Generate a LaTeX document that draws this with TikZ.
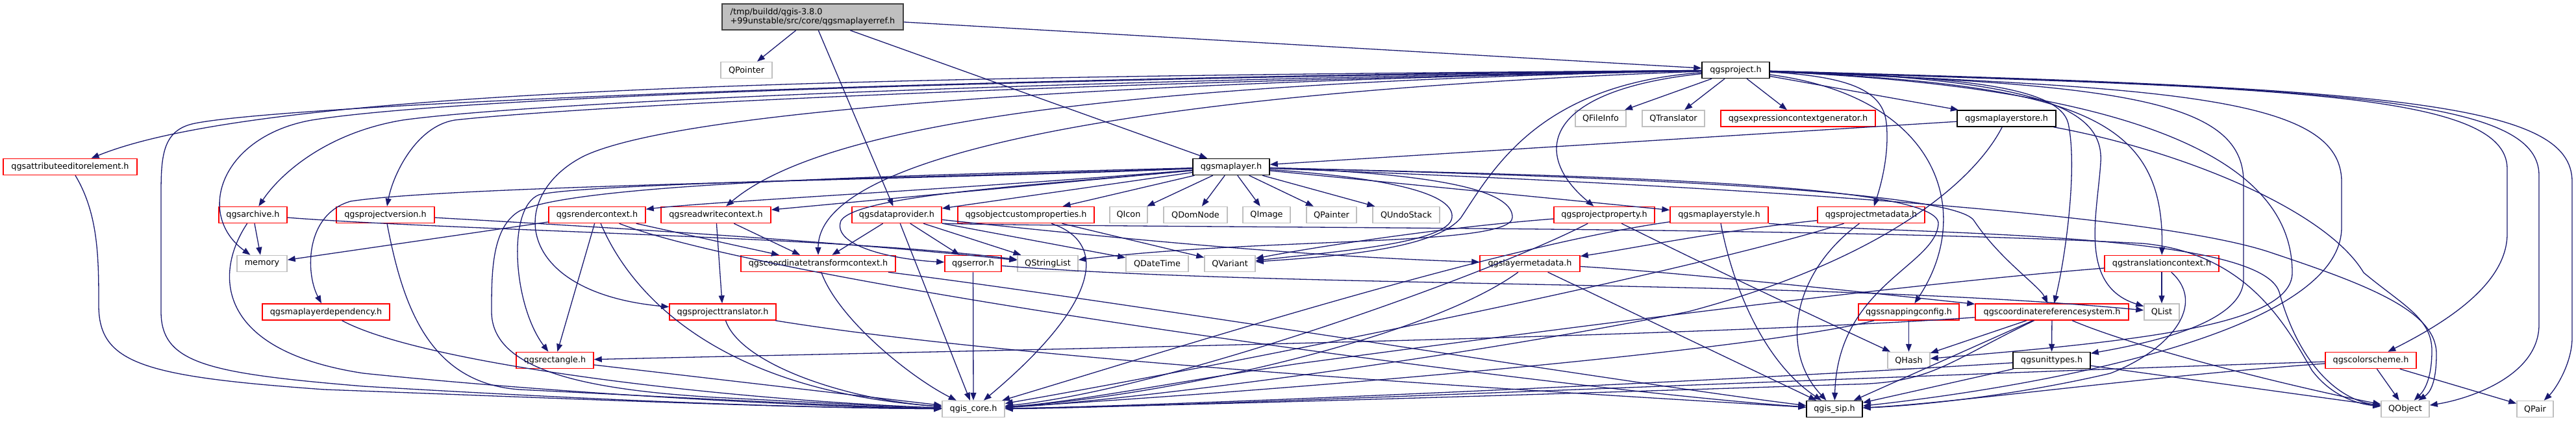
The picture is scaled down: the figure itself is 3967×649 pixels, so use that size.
\documentclass[tikz,border=0pt]{standalone}
\usepackage{fontspec}
\setmainfont{DejaVu Sans}
\usetikzlibrary{arrows.meta}
\definecolor{edgec}{HTML}{191970}
\definecolor{greyb}{HTML}{BFBFBF}
\definecolor{mainfill}{HTML}{BFBFBF}
\definecolor{redb}{HTML}{FF0000}
\newcommand\edS[2]{\draw[edge] (#1) -- (#2);}
\newcommand\edC[4]{\draw[edge] (#1) .. controls (#3) and (#4) .. (#2);}
\begin{document}
\begin{tikzpicture}[x=1pt,y=-1pt,
  font=\fontsize{12.8}{14.5}\selectfont,
  box/.style={rectangle,fill=white,inner sep=0pt,minimum height=25pt,line width=1.5pt},
  rbox/.style={box,draw=redb},
  gbox/.style={box,draw=greyb},
  kbox/.style={box,draw=black},
  edge/.style={draw=edgec,line width=1.3pt,-{Triangle[length=12pt,width=9pt]}}]
\useasboundingbox (0,0) rectangle (3967,649);
\fill[white] (0,0) rectangle (3967,649);
% ---------- nodes ----------
\node[box,draw=black!75,fill=mainfill,minimum width=279pt,minimum height=40pt,align=left] (main) at (1251.5,26) {/tmp/buildd/qgis-3.8.0\\+99unstable/src/core/qgsmaplayerref.h};
\node[gbox,minimum width=79pt] (qpointer) at (1149.5,108) {QPointer};
\node[kbox,minimum width=104pt] (project) at (2673,108) {qgsproject.h};
\node[gbox,minimum width=78pt] (qfileinfo) at (2465,182.5) {QFileInfo};
\node[gbox,minimum width=96pt] (qtranslator) at (2577,182.5) {QTranslator};
\node[rbox,minimum width=238pt] (exprgen) at (2769,182.5) {qgsexpressioncontextgenerator.h};
\node[kbox,minimum width=152pt] (layerstore) at (3090,182.5) {qgsmaplayerstore.h};
\node[rbox,minimum width=206pt] (attred) at (108,257) {qgsattributeeditorelement.h};
\node[kbox,minimum width=118pt] (maplayer) at (1896,257) {qgsmaplayer.h};
\node[rbox,minimum width=105pt] (archive) at (389.5,331) {qgsarchive.h};
\node[rbox,minimum width=151pt] (projver) at (593.5,331) {qgsprojectversion.h};
\node[rbox,minimum width=149pt] (rendctx) at (919.5,331) {qgsrendercontext.h};
\node[rbox,minimum width=169pt] (rwctx) at (1102.5,331) {qgsreadwritecontext.h};
\node[rbox,minimum width=138pt] (dataprov) at (1381,331) {qgsdataprovider.h};
\node[rbox,minimum width=210pt] (objcust) at (1580,331) {qgsobjectcustomproperties.h};
\node[gbox,minimum width=58pt] (qicon) at (1738,331) {QIcon};
\node[gbox,minimum width=98pt] (qdomnode) at (1841,331) {QDomNode};
\node[gbox,minimum width=73pt] (qimage) at (1950.5,331) {QImage};
\node[gbox,minimum width=77pt] (qpainter) at (2050.5,331) {QPainter};
\node[gbox,minimum width=103pt] (qundo) at (2165.5,331) {QUndoStack};
\node[rbox,minimum width=155pt] (projprop) at (2470.5,331) {qgsprojectproperty.h};
\node[rbox,minimum width=151pt] (mlstyle) at (2647.5,331) {qgsmaplayerstyle.h};
\node[rbox,minimum width=165pt] (projmeta) at (2881.5,331) {qgsprojectmetadata.h};
\node[gbox,minimum width=77pt] (memory) at (403.5,406) {memory};
\node[rbox,minimum width=238pt] (ctctx) at (1260,406) {qgscoordinatetransformcontext.h};
\node[rbox,minimum width=87pt] (error) at (1498.5,406) {qgserror.h};
\node[gbox,minimum width=93pt] (qstrlist) at (1613.5,406) {QStringList};
\node[gbox,minimum width=96pt] (qdatetime) at (1782,406) {QDateTime};
\node[gbox,minimum width=78pt] (qvariant) at (1894,406) {QVariant};
\node[rbox,minimum width=154pt] (laymeta) at (2356,406) {qgslayermetadata.h};
\node[rbox,minimum width=176pt] (transctx) at (3329,406) {qgstranslationcontext.h};
\node[rbox,minimum width=196pt] (laydep) at (502,480.5) {qgsmaplayerdependency.h};
\node[rbox,minimum width=164pt] (projtrans) at (1113,480.5) {qgsprojecttranslator.h};
\node[rbox,minimum width=155pt] (snapping) at (2939.5,480.5) {qgssnappingconfig.h};
\node[rbox,minimum width=236pt] (crs) at (3160,480.5) {qgscoordinatereferencesystem.h};
\node[gbox,minimum width=54pt] (qlist) at (3329,480.5) {QList};
\node[rbox,minimum width=119pt] (rect) at (854.5,555) {qgsrectangle.h};
\node[gbox,minimum width=65pt] (qhash) at (2939.5,555) {QHash};
\node[kbox,minimum width=119pt] (unittypes) at (3159.5,555) {qgsunittypes.h};
\node[rbox,minimum width=140pt] (colorscheme) at (3651,555) {qgscolorscheme.h};
\node[gbox,minimum width=96pt] (core) at (1499,630) {qgis\_core.h};
\node[kbox,minimum width=86pt] (sip) at (2825,630) {qgis\_sip.h};
\node[gbox,minimum width=74pt] (qobject) at (3704,630) {QObject};
\node[gbox,minimum width=56pt] (qpair) at (3904,630) {QPair};
% ---------- edges: main ----------
\edS{main}{qpointer}
\edS{main}{project}
\edS{main}{maplayer}
\edS{main}{dataprov}
% ---------- edges: qgsproject.h ----------
\edS{project}{qfileinfo}
\edS{project}{qtranslator}
\edS{project}{exprgen}
\edS{project}{layerstore}
\edC{project}{attred}{1400,118}{420,130}
\draw[edge] (project) .. controls (1500,118) and (450,160) .. (300,190) .. controls (250,200) and (248,240) .. (248,300) -- (248,480) .. controls (248,560) and (320,575) .. (560,595) .. controls (900,615) and (1200,628) .. (core);
\draw[edge] (project) .. controls (1500,122) and (700,150) .. (480,185) .. controls (340,210) and (300,330) .. (memory);
\draw[edge] (project) .. controls (1500,126) and (800,160) .. (620,185) .. controls (500,205) and (430,270) .. (archive);
\draw[edge] (project) .. controls (1500,130) and (850,168) .. (700,185) .. controls (640,195) and (605,270) .. (projver);
\edC{project}{rwctx}{1800,126}{1280,180}
\draw[edge] (project) .. controls (1700,126) and (1050,170) .. (900,240) .. controls (780,300) and (790,450) .. (projtrans);
\edC{project}{ctctx}{1800,140}{1260,230}
\draw[edge] (project) .. controls (2370,130) and (2300,260) .. (2250,335) .. controls (2210,385) and (2050,395) .. (qvariant);
\edC{project}{projprop}{2370,140}{2360,240}
\draw[edge] (project) .. controls (2850,118) and (2900,140) .. (2905,190) .. controls (2910,240) and (2895,290) .. (projmeta);
\edC{project}{snapping}{2990,150}{3040,330}
\draw[edge] (project) .. controls (3000,118) and (3170,130) .. (3185,190) .. controls (3200,260) and (3180,400) .. (crs);
\draw[edge] (project) .. controls (3150,120) and (3240,170) .. (3235,250) .. controls (3230,330) and (3200,440) .. (qlist);
\edC{project}{transctx}{3200,130}{3333,180}
\draw[edge] (project) .. controls (3250,130) and (3455,150) .. (3455,280) -- (3455,430) .. controls (3455,500) and (3300,530) .. (unittypes);
\draw[edge] (project) .. controls (3350,135) and (3606,150) .. (3606,280) -- (3606,350) .. controls (3606,520) and (3100,600) .. (sip);
\draw[edge] (project) .. controls (3500,135) and (3861,140) .. (3861,260) -- (3861,360) .. controls (3861,440) and (3760,500) .. (colorscheme);
\draw[edge] (project) .. controls (3600,135) and (3910,150) .. (3910,270) -- (3910,500) .. controls (3910,580) and (3800,615) .. (qobject);
\draw[edge] (project) .. controls (3700,135) and (3961,160) .. (3961,280) -- (3961,520) .. controls (3961,560) and (3935,600) .. (qpair);
\draw[edge] (project) .. controls (3420,140) and (3530,300) .. (3530,420) .. controls (3530,500) and (3300,525) .. (qhash);
% ---------- edges: qgsmaplayerstore.h ----------
\edS{layerstore}{maplayer}
\draw[edge] (layerstore) .. controls (3040,280) and (2900,400) .. (2600,480) .. controls (2200,560) and (1700,620) .. (core);
\draw[edge] (layerstore) .. controls (3350,230) and (3580,320) .. (3640,420) .. controls (3700,470) and (3745,490) .. (3745,540) .. controls (3745,580) and (3735,600) .. (qobject);
% ---------- edges: qgsmaplayer.h ----------
\edC{maplayer}{rendctx}{1500,290}{1100,310}
\edS{maplayer}{rwctx}
\edS{maplayer}{dataprov}
\edS{maplayer}{objcust}
\edS{maplayer}{qicon}
\edS{maplayer}{qdomnode}
\edS{maplayer}{qimage}
\edS{maplayer}{qpainter}
\edS{maplayer}{qundo}
\edS{maplayer}{mlstyle}
\draw[edge] (maplayer) .. controls (1500,275) and (700,285) .. (540,310) .. controls (470,330) and (470,420) .. (laydep);
\draw[edge] (maplayer) .. controls (1500,272) and (900,282) .. (830,300) .. controls (780,320) and (790,470) .. (rect);
\draw[edge] (maplayer) .. controls (1500,268) and (900,278) .. (800,325) .. controls (757,350) and (757,420) .. (757,480) .. controls (757,570) and (900,600) .. (1100,612) .. controls (1300,622) and (1400,628) .. (core);
\draw[edge] (maplayer) .. controls (1600,285) and (1320,300) .. (1295,340) .. controls (1280,380) and (1380,400) .. (error);
\draw[edge] (maplayer) .. controls (2150,275) and (2240,300) .. (2236,335) .. controls (2232,375) and (2050,388) .. (qvariant);
\draw[edge] (maplayer) .. controls (2250,268) and (2330,300) .. (2329,335) .. controls (2328,380) and (1950,365) .. (qstrlist);
\draw[edge] (maplayer) .. controls (2400,270) and (3010,290) .. (3040,340) .. controls (3080,400) and (3140,440) .. (crs);
\draw[edge] (maplayer) .. controls (2500,280) and (3300,320) .. (3500,390) .. controls (3650,440) and (3752,480) .. (3752,545) .. controls (3752,590) and (3742,605) .. (qobject);
\draw[edge] (maplayer) .. controls (2400,270) and (2990,280) .. (2985,345) .. controls (2980,410) and (2830,440) .. (sip);
% ---------- edges: qgsdataprovider.h ----------
\edS{dataprov}{ctctx}
\edS{dataprov}{core}
\edS{dataprov}{error}
\edS{dataprov}{qstrlist}
\edS{dataprov}{qdatetime}
\edC{dataprov}{laymeta}{1700,365}{2000,395}
\draw[edge] (dataprov.south east) .. controls (1800,352) and (2800,348) .. (3300,375) .. controls (3460,390) and (3520,500) .. (3560,570) .. controls (3590,610) and (3630,622) .. (qobject);
% ---------- edges: others on row 4 ----------
\edC{objcust}{core}{1710,375}{1690,470}
\edS{objcust}{qvariant}
\edS{rendctx}{memory}
\edS{rendctx}{rect}
\edS{rendctx}{ctctx}
\edC{rendctx}{core}{970,450}{1100,600}
\edC{rendctx}{sip}{1200,440}{2400,600}
\edS{rwctx}{projtrans}
\edS{rwctx}{ctctx}
\edS{archive}{memory}
\draw[edge] (archive) .. controls (330,420) and (330,540) .. (560,575) .. controls (900,610) and (1300,628) .. (core);
\edC{archive}{qstrlist}{700,355}{1300,365}
\draw[edge] (projver) .. controls (620,470) and (660,590) .. (800,600) .. controls (1100,615) and (1350,628) .. (core);
\edC{projver}{qstrlist}{900,348}{1300,372}
\edC{projprop}{qvariant}{2200,352}{2000,385}
\edC{projprop}{qhash}{2650,420}{2800,490}
\edC{projprop}{core}{2300,420}{1800,600}
\edC{mlstyle}{sip}{2670,450}{2720,560}
\edC{mlstyle}{core}{2300,380}{1800,540}
\draw[edge] (mlstyle.south east) .. controls (2950,362) and (3480,355) .. (3510,450) .. controls (3540,560) and (3600,615) .. (qobject);
\edC{projmeta}{laymeta}{2650,355}{2500,385}
\edC{projmeta}{sip}{2760,420}{2740,540}
\edC{projmeta}{core}{2600,420}{1900,560}
% ---------- edges: row 5 ----------
\edC{ctctx}{core}{1290,490}{1400,580}
\edC{ctctx}{sip}{1700,460}{2500,590}
\edS{error}{core}
\edC{error}{qlist}{2000,445}{2800,430}
\edC{laymeta}{core}{2200,520}{1800,610}
\edS{laymeta}{sip}
\edC{laymeta}{crs}{2600,420}{2980,462}
\edS{transctx}{qlist}
\draw[edge] (transctx) .. controls (2900,440) and (2300,520) .. (2000,560) .. controls (1800,590) and (1650,620) .. (core);
\draw[edge] (transctx) .. controls (3400,470) and (3340,540) .. (3250,575) .. controls (3100,610) and (2950,625) .. (sip);
\draw[edge] (attred) .. controls (152,330) and (152,400) .. (152,470) .. controls (152,560) and (220,580) .. (500,600) .. controls (900,615) and (1200,628) .. (core);
% ---------- edges: row 6 ----------
\edC{laydep}{core}{650,560}{1100,615}
\edC{projtrans}{core}{1140,560}{1300,615}
\edC{projtrans}{sip}{1600,560}{2500,610}
\edS{snapping}{qhash}
\edC{snapping}{core}{2700,540}{2000,600}
\edC{crs}{rect}{2600,520}{1500,540}
\edS{crs}{qhash}
\edS{crs}{unittypes}
\edS{crs}{sip}
\draw[edge] (crs) .. controls (2995,560) and (2975,590) .. (2850,592) .. controls (2300,610) and (1800,625) .. (core);
\edC{crs}{qobject}{3300,540}{3550,600}
% ---------- edges: row 7 ----------
\edS{rect}{core}
\edC{unittypes}{core}{2600,590}{1800,625}
\edS{unittypes}{sip}
\edS{unittypes}{qobject}
\edS{colorscheme}{qobject}
\edS{colorscheme}{qpair}
\edC{colorscheme}{core}{3000,575}{1800,628}
\edC{colorscheme}{sip}{3300,580}{3000,622}
\end{tikzpicture}
\end{document}
